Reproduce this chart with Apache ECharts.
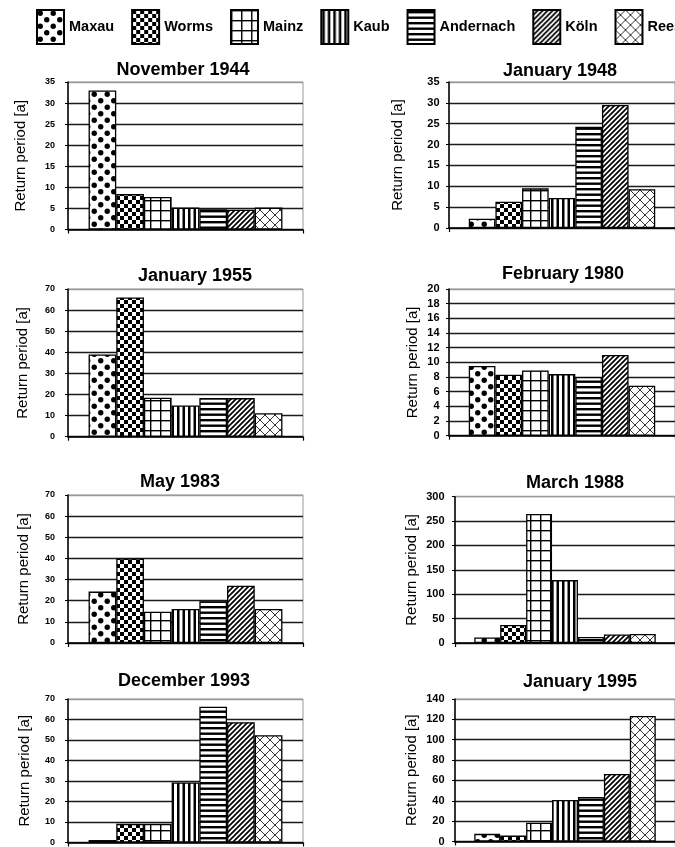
<!DOCTYPE html>
<html>
<head>
<meta charset="utf-8">
<script src="https://cdn.jsdelivr.net/npm/echarts@6/dist/echarts.min.js"></script>
<style>
  html, body { margin: 0; padding: 0; background: #fff; }
  #chart { width: 675px; height: 847px; }
</style>
</head>
<body>
<div id="chart"></div>
<script>
// Gauging stations along the Rhine, upstream to downstream
const stations = ['Maxau', 'Worms', 'Mainz', 'Kaub', 'Andernach', 'Köln', 'Rees'];

// Flood events
const eventTitles = ['November 1944', 'January 1948', 'January 1955', 'February 1980',
                     'May 1983', 'March 1988', 'December 1993', 'January 1995'];

// Return periods [a] per station, one array per event
const nov1944 = [33, 8.4, 7.7, 5.2, 4.8, 4.7, 5.2];
const jan1948 = [2.2, 6.3, 9.5, 7.2, 24.3, 29.5, 9.3];
const jan1955 = [39, 66, 18.5, 14.8, 18.3, 18.3, 11.1];
const feb1980 = [9.5, 8.3, 8.9, 8.4, 8.0, 11.0, 6.8];
const may1983 = [24.3, 40, 14.8, 16.1, 19.8, 27.1, 16.1];
const mar1988 = [11.5, 37, 264.5, 129, 12.5, 17.5, 18.5];
const dec1993 = [1.2, 9.1, 9.1, 29.3, 66.2, 58.7, 52.3];
const jan1995 = [7.5, 5.8, 18.5, 40.8, 43.7, 66.3, 123.4];

// Y axis ranges and tick steps per event
const yMax  = [35, 35, 70, 20, 70, 300, 70, 140];
const yStep = [5, 5, 10, 2, 10, 50, 10, 20];

const eventValues = [nov1944, jan1948, jan1955, feb1980, may1983, mar1988, dec1993, jan1995];

// Panel boxes (pixels) for the 4 x 2 layout
const layout = [
  { left: 68,  top: 82,    width: 235, height: 147.5, titleX: 183, titleTop: 61,  nameGap: 40, labelSize: 9,  labelMargin: 13 },
  { left: 449, top: 82,    width: 235, height: 146,   titleX: 560, titleTop: 62,  nameGap: 44, labelSize: 11, labelMargin: 9.5 },
  { left: 68,  top: 289,   width: 235, height: 147.7, titleX: 195, titleTop: 267, nameGap: 38, labelSize: 9,  labelMargin: 13 },
  { left: 449, top: 289,   width: 235, height: 146.7, titleX: 563, titleTop: 265, nameGap: 29, labelSize: 11, labelMargin: 9.5 },
  { left: 68,  top: 495,   width: 235, height: 148,   titleX: 180, titleTop: 473, nameGap: 37, labelSize: 9,  labelMargin: 13 },
  { left: 455, top: 496.7, width: 230, height: 146.3, titleX: 575, titleTop: 474, nameGap: 36, labelSize: 11, labelMargin: 10.5 },
  { left: 68,  top: 699,   width: 235, height: 146.7, titleX: 184, titleTop: 672, nameGap: 36, labelSize: 9,  labelMargin: 13 },
  { left: 455, top: 699,   width: 230, height: 146.7, titleX: 580, titleTop: 673, nameGap: 36, labelSize: 11, labelMargin: 10.5 }
];

const FONT = '"Liberation Sans", Arial, sans-serif';

// ---- black & white fill patterns, one per station ----
function makePattern(w, h, draw) {
  const c = document.createElement('canvas');
  c.width = w; c.height = h;
  const ctx = c.getContext('2d');
  ctx.fillStyle = '#fff';
  ctx.fillRect(0, 0, w, h);
  ctx.fillStyle = '#000';
  ctx.strokeStyle = '#000';
  draw(ctx, w, h);
  return { image: c, repeat: 'repeat' };
}

const patterns = [
  // Maxau: staggered dots
  makePattern(13, 13, (ctx) => {
    [[3.25, 3.25], [9.75, 9.75]].forEach(([x, y]) => {
      ctx.beginPath(); ctx.arc(x, y, 2.7, 0, Math.PI * 2); ctx.fill();
    });
  }),
  // Worms: checkerboard
  makePattern(8, 8, (ctx) => {
    ctx.fillRect(0, 0, 4, 4);
    ctx.fillRect(4, 4, 4, 4);
  }),
  // Mainz: square grid
  makePattern(10, 10, (ctx) => {
    ctx.fillRect(0, 0, 1.4, 10);
    ctx.fillRect(0, 0, 10, 1.4);
  }),
  // Kaub: vertical stripes
  makePattern(11, 4, (ctx) => {
    ctx.fillRect(1, 0, 2.5, 4);
    ctx.fillRect(6.5, 0, 2.5, 4);
  }),
  // Andernach: horizontal stripes
  makePattern(4, 11, (ctx) => {
    ctx.fillRect(0, 1, 4, 2.4);
    ctx.fillRect(0, 6.5, 4, 2.4);
  }),
  // Köln: diagonal hatching
  makePattern(5, 5, (ctx) => {
    ctx.lineWidth = 1.7;
    ctx.beginPath();
    ctx.moveTo(-1, 6); ctx.lineTo(6, -1);
    ctx.moveTo(-1, 1); ctx.lineTo(1, -1);
    ctx.moveTo(4, 6); ctx.lineTo(6, 4);
    ctx.stroke();
  }),
  // Rees: diagonal cross-hatch
  makePattern(10, 10, (ctx) => {
    ctx.lineWidth = 1;
    ctx.strokeStyle = '#333';
    ctx.beginPath();
    ctx.moveTo(0, 0); ctx.lineTo(10, 10);
    ctx.moveTo(0, 10); ctx.lineTo(10, 0);
    ctx.stroke();
  })
];

// ---- build grids, axes and series ----
const grids = [], xAxes = [], yAxes = [], titles = [], series = [];

layout.forEach((L, p) => {
  grids.push({
    left: L.left, top: L.top, width: L.width, height: L.height,
    show: true, borderColor: '#9a9a9a', borderWidth: 1, backgroundColor: '#fff'
  });

  titles.push({
    text: eventTitles[p],
    left: L.titleX, top: L.titleTop, textAlign: 'center', padding: 0,
    textStyle: { fontFamily: FONT, fontSize: 18, fontWeight: 'bold', color: '#000' }
  });

  xAxes.push({
    type: 'category', gridIndex: p, data: [''],
    axisLine: { lineStyle: { color: '#000', width: 1.5 } },
    axisTick: { show: true, length: 4, lineStyle: { color: '#000', width: 1.2 } },
    axisLabel: { show: false }
  });

  const nLines = yMax[p] / yStep[p] + 1;
  const lineColors = [];
  for (let i = 0; i < nLines; i++) lineColors.push(i === nLines - 1 ? '#9a9a9a' : '#1a1a1a');

  yAxes.push({
    type: 'value', gridIndex: p, min: 0, max: yMax[p], interval: yStep[p],
    name: 'Return period [a]', nameLocation: 'middle', nameRotate: 90, nameGap: L.nameGap,
    nameTextStyle: { fontFamily: FONT, fontSize: 15, color: '#000' },
    axisLine: { show: true, lineStyle: { color: '#000', width: 1.5 } },
    axisTick: { show: true, length: 3, lineStyle: { color: '#000', width: 1 } },
    axisLabel: { fontFamily: FONT, fontSize: L.labelSize, fontWeight: 'bold', color: '#000', margin: L.labelMargin },
    splitLine: { show: true, lineStyle: { color: lineColors, width: 1.3 } }
  });

  stations.forEach((st, s) => {
    series.push({
      type: 'bar', name: st, xAxisIndex: p, yAxisIndex: p,
      data: [eventValues[p][s]],
      barGap: '0%', barCategoryGap: '17.5%',
      itemStyle: { color: patterns[s], borderColor: '#000', borderWidth: 1.3 },
      emphasis: { disabled: true }
    });
  });
});

const chart = echarts.init(document.getElementById('chart'), null, { renderer: 'canvas' });
chart.setOption({
  animation: false,
  backgroundColor: '#fff',
  title: titles,
  legend: {
    data: stations,
    left: 36, top: 9, width: 800, padding: 0,
    icon: 'rect',
    itemWidth: 27, itemHeight: 34, itemGap: 17,
    selectedMode: false,
    textStyle: { fontFamily: FONT, fontSize: 14.5, fontWeight: 'bold', color: '#000' }
  },
  grid: grids,
  xAxis: xAxes,
  yAxis: yAxes,
  series: series
});
</script>
</body>
</html>
